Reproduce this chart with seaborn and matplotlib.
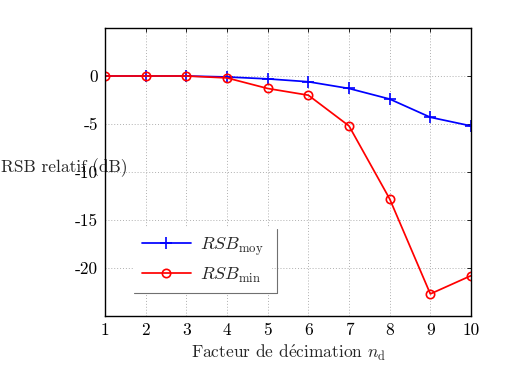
import matplotlib
matplotlib.use("Agg")
import matplotlib.pyplot as plt
import seaborn as sns
import pandas as pd
from matplotlib.lines import Line2D

decimation = [1, 2, 3, 4, 5, 6, 7, 8, 9, 10]
rsb_moy = [0.0, 0.0, 0.0, -0.1, -0.3, -0.6, -1.3, -2.4, -4.3, -5.2]
rsb_min = [0.0, 0.0, 0.0, -0.2, -1.3, -2.0, -5.2, -12.8, -22.7, -20.8]
yticks = [0, -5, -10, -15, -20]

sns.set_style("white")
plt.rcParams['font.family'] = ['cmr10', 'DejaVu Serif']
plt.rcParams['mathtext.fontset'] = 'cm'
plt.rcParams['axes.unicode_minus'] = False
plt.rcParams['axes.formatter.use_mathtext'] = False

FS = 12.5

fig = plt.figure(figsize=(5.16, 3.65), dpi=100)
ax = fig.add_axes([105/516, 49/365, 366/516, 288/365])

df = pd.DataFrame({"x": decimation, "moy": rsb_moy, "min": rsb_min})
sns.lineplot(data=df, x="x", y="moy", ax=ax, color="#0000ff", marker="+",
             markersize=8, markeredgewidth=1.2, markeredgecolor="#0000ff",
             linewidth=1.25, label=r"$RSB_{\mathrm{moy}}$")
sns.lineplot(data=df, x="x", y="min", ax=ax, color="#ff0000", marker="o",
             markersize=6, markerfacecolor="none", markeredgecolor="#ff0000",
             markeredgewidth=1.2, linewidth=1.25, label=r"$RSB_{\mathrm{min}}$")

ax.set_xlim(1, 10)
ax.set_ylim(-25, 5)
ax.set_xticks(decimation)
ax.set_yticks(yticks)
ax.set_yticklabels([str(v) for v in yticks])
ax.set_xticklabels([str(v) for v in decimation])
ax.grid(True, color="#b0b0b0", linestyle=(0, (1, 2)), linewidth=0.7)
ax.tick_params(direction="in", top=True, right=True, length=3, width=0.6,
               labelsize=FS, colors="black", pad=5)
for s in ax.spines.values():
    s.set_color("black")
    s.set_linewidth(1.0)

ax.set_xlabel(r"Facteur de d$\acute{\mathrm{e}}$cimation $n_{\mathrm{d}}$", fontsize=FS, labelpad=3)
ax.set_ylabel("RSB relatif (dB)", fontsize=FS, rotation=0, ha="center", va="center")
ax.yaxis.set_label_coords(-0.112, 0.515)

leg = ax.legend(loc="lower left", bbox_to_anchor=(0.079, 0.08), fontsize=13,
                frameon=True, fancybox=False, borderpad=0.45, handlelength=2.7,
                labelspacing=0.45, handletextpad=0.5, borderaxespad=0)
leg.get_frame().set_edgecolor("none")
leg.get_frame().set_facecolor("white")
leg.get_frame().set_alpha(1)

fig.add_artist(Line2D([277/516, 277/516], [1-229/365, 1-293/365], color="#707070", lw=0.8))
fig.add_artist(Line2D([134/516, 277/516], [1-293/365, 1-293/365], color="#707070", lw=0.8))

fig.savefig("out.png", dpi=100)
